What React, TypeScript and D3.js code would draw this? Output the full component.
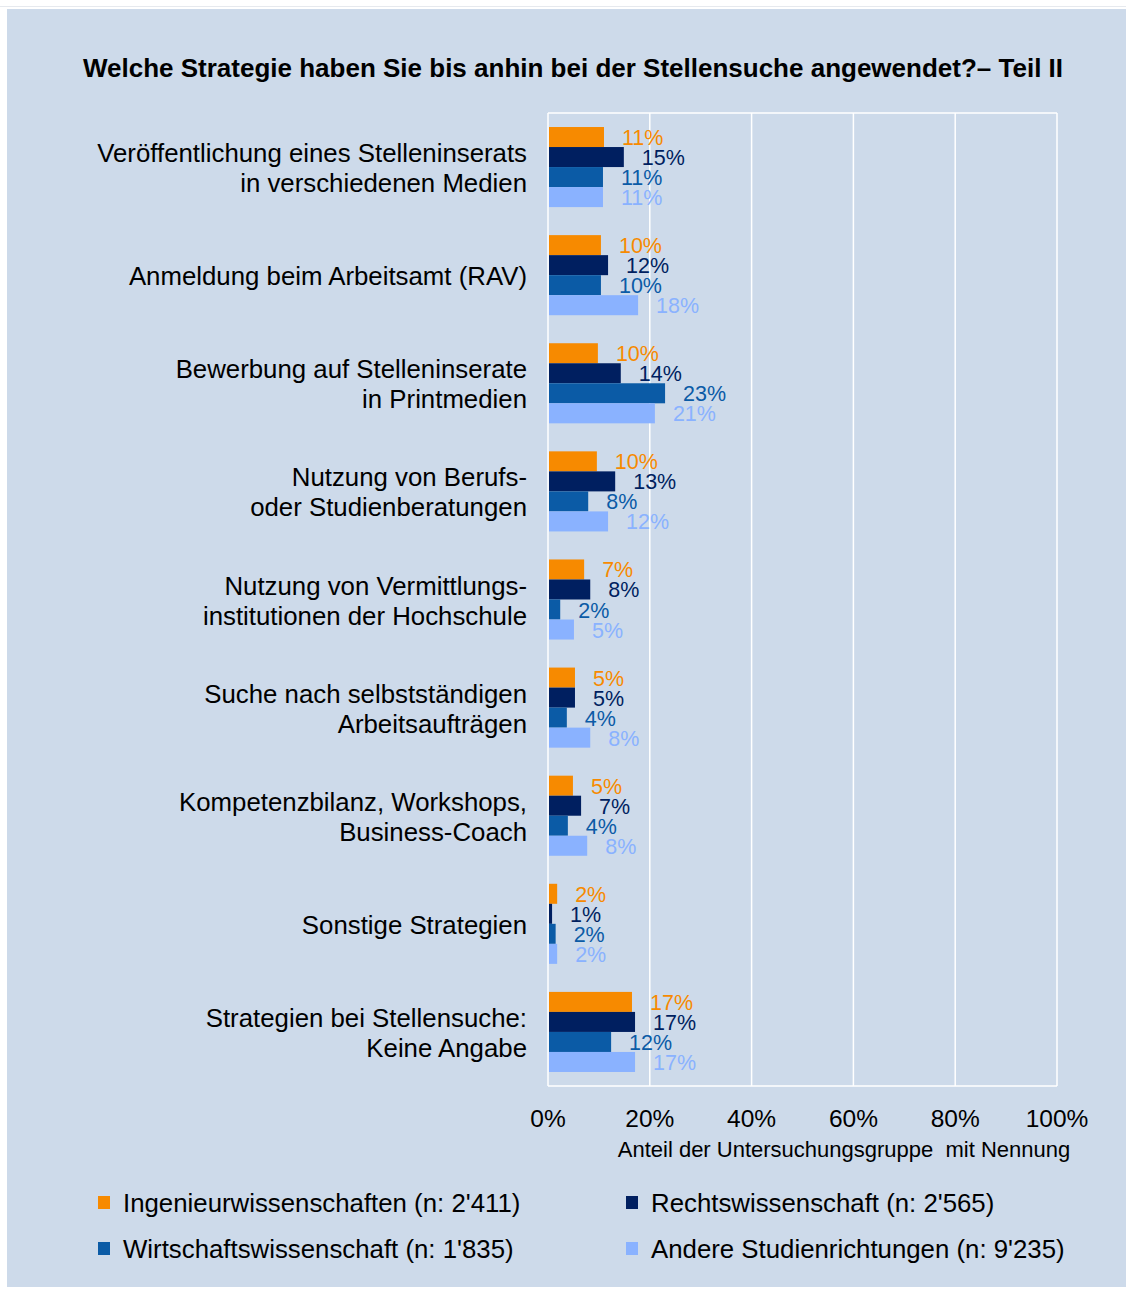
import * as d3 from 'd3';
import React, { useEffect, useRef } from 'react';

const categories = [
  ['Veröffentlichung eines Stelleninserats', 'in verschiedenen Medien'],
  ['Anmeldung beim Arbeitsamt (RAV)'],
  ['Bewerbung auf Stelleninserate', 'in Printmedien'],
  ['Nutzung von Berufs-', 'oder Studienberatungen'],
  ['Nutzung von Vermittlungs-', 'institutionen der Hochschule'],
  ['Suche nach selbstständigen', 'Arbeitsaufträgen'],
  ['Kompetenzbilanz, Workshops,', 'Business-Coach'],
  ['Sonstige Strategien'],
  ['Strategien bei Stellensuche:', 'Keine Angabe'],
];

const seriesNames = [
  'Ingenieurwissenschaften (n: 2\'411)',
  'Rechtswissenschaft (n: 2\'565)',
  'Wirtschaftswissenschaft (n: 1\'835)',
  'Andere Studienrichtungen (n: 9\'235)',
];

const seriesColors = ['#f78a00', '#001f60', '#0b5ba6', '#8ab2ff'];

// values per series, in category order (percent)
const ingenieur = [11.0, 10.4, 9.8, 9.6, 7.1, 5.3, 4.9, 1.8, 16.5];
const recht = [14.9, 11.8, 14.3, 13.2, 8.3, 5.3, 6.5, 0.8, 17.1];
const wirtschaft = [10.8, 10.4, 23.0, 7.9, 2.4, 3.7, 3.9, 1.5, 12.4];
const andere = [10.8, 17.7, 21.0, 11.8, 5.1, 8.3, 7.7, 1.8, 17.1];

const seriesValues = [ingenieur, recht, wirtschaft, andere];

const xTicks = [0, 20, 40, 60, 80, 100];

const title = 'Welche Strategie haben Sie bis anhin bei der Stellensuche angewendet?– Teil II';
const xTitle = 'Anteil der Untersuchungsgruppe  mit Nennung';

const W = 1126;
const H = 1289;
const font = '"Liberation Sans", Arial, sans-serif';

export default function App() {
  const ref = useRef<SVGSVGElement | null>(null);

  useEffect(() => {
    const svg = d3.select(ref.current);
    svg.selectAll('*').remove();

    // panel background
    svg.append('rect').attr('width', W).attr('height', H).attr('fill', '#ffffff');
    svg.append('line')
      .attr('x1', 0).attr('x2', W).attr('y1', 6.5).attr('y2', 6.5)
      .attr('stroke', '#e6e9ee').attr('stroke-width', 1);
    svg.append('rect')
      .attr('x', 7).attr('y', 9)
      .attr('width', W - 7).attr('height', H - 11)
      .attr('fill', '#cddaea');

    svg.append('text')
      .attr('x', 573).attr('y', 77)
      .attr('text-anchor', 'middle')
      .attr('font-family', font).attr('font-weight', 'bold').attr('font-size', 26)
      .attr('fill', '#000')
      .text(title);

    const plot = { left: 548, right: 1057, top: 113, bottom: 1086 };

    const x = d3.scaleLinear().domain([0, 100]).range([plot.left, plot.right]);
    const y = d3.scaleBand<number>()
      .domain(d3.range(categories.length))
      .range([plot.top, plot.bottom])
      .paddingInner(28 / 108)
      .paddingOuter(14 / 108);
    const ySub = d3.scaleBand<number>()
      .domain(d3.range(seriesValues.length))
      .range([0, y.bandwidth()]);

    // grid
    const g = svg.append('g');
    g.selectAll('line.grid')
      .data(xTicks)
      .join('line')
      .attr('x1', d => x(d)).attr('x2', d => x(d))
      .attr('y1', plot.top).attr('y2', plot.bottom)
      .attr('stroke', '#ffffff').attr('stroke-width', 1.5);
    g.append('line')
      .attr('x1', plot.left).attr('x2', plot.right)
      .attr('y1', plot.top).attr('y2', plot.top)
      .attr('stroke', '#ffffff').attr('stroke-width', 1.5);
    g.append('line')
      .attr('x1', plot.left).attr('x2', plot.right)
      .attr('y1', plot.bottom).attr('y2', plot.bottom)
      .attr('stroke', '#ffffff').attr('stroke-width', 1.5);

    // bars
    seriesValues.forEach((vals, s) => {
      const sg = svg.append('g');
      sg.selectAll('rect')
        .data(vals)
        .join('rect')
        .attr('x', x(0) + 1)
        .attr('y', (_, i) => (y(i) as number) + (ySub(s) as number))
        .attr('width', d => x(d) - x(0) - 1)
        .attr('height', ySub.bandwidth())
        .attr('fill', seriesColors[s]);
      sg.selectAll('text')
        .data(vals)
        .join('text')
        .attr('x', d => x(d) + 18)
        .attr('y', (_, i) => (y(i) as number) + (ySub(s) as number) + ySub.bandwidth() / 2 + 8)
        .attr('font-family', font).attr('font-size', 21.5)
        .attr('fill', seriesColors[s])
        .text(d => `${Math.round(d)}%`);
    });

    // category labels
    const cl = svg.append('g');
    categories.forEach((lines, i) => {
      const cy = (y(i) as number) + y.bandwidth() / 2;
      const lh = 30;
      lines.forEach((line, j) => {
        cl.append('text')
          .attr('x', 527)
          .attr('y', cy + (j - (lines.length - 1) / 2) * lh + 10)
          .attr('text-anchor', 'end')
          .attr('font-family', font).attr('font-size', 25.8)
          .attr('fill', '#000')
          .text(line);
      });
    });

    // x axis labels
    svg.append('g')
      .selectAll('text')
      .data(xTicks)
      .join('text')
      .attr('x', d => x(d))
      .attr('y', 1127)
      .attr('text-anchor', 'middle')
      .attr('font-family', font).attr('font-size', 24.5)
      .attr('fill', '#000')
      .text(d => `${d}%`);

    svg.append('text')
      .attr('x', 844).attr('y', 1157)
      .attr('text-anchor', 'middle')
      .attr('font-family', font).attr('font-size', 22)
      .attr('fill', '#000')
      .style('white-space', 'pre')
      .text(xTitle);

    // legend
    const legendPos = [
      [98, 1212], [626, 1212],
      [98, 1258], [626, 1258],
    ];
    const lg = svg.append('g');
    seriesNames.forEach((name, s) => {
      const [lx, ly] = legendPos[s];
      lg.append('rect')
        .attr('x', lx).attr('y', ly - 16)
        .attr('width', 12).attr('height', 13)
        .attr('fill', seriesColors[s]);
      lg.append('text')
        .attr('x', lx + 25).attr('y', ly)
        .attr('font-family', font).attr('font-size', 25.8)
        .attr('fill', '#000')
        .text(name);
    });
  }, []);

  return (
    <div style={{ position: 'absolute', left: 0, top: 0 }}>
      <svg ref={ref} width={W} height={H} style={{ display: 'block' }} />
    </div>
  );
}
